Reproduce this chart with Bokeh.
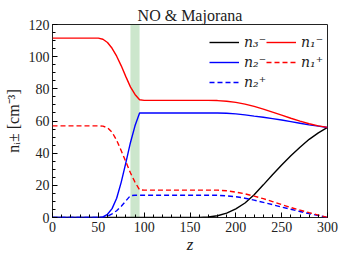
from bokeh.plotting import figure
from bokeh.models import (ColumnDataSource, BoxAnnotation, Legend, LegendItem,
                          SingleIntervalTicker)
from bokeh.embed import file_html
from bokeh.resources import INLINE

# ---- data ----
z = [0, 10, 20, 30, 40, 50, 55, 60, 65, 70, 75, 80, 85, 90, 95,
     100, 120, 140, 160, 170, 180, 190, 200, 210, 220, 230, 240, 250,
     260, 270, 280, 290, 300]

n1_minus = [111.5, 111.5, 111.5, 111.5, 111.5, 111.5, 110.8, 108.8, 105.2,
            100.3, 94.3, 87.6, 81.2, 76.5, 73.2,
            72.8, 72.8, 72.8, 72.8, 72.8, 72.7, 72.3, 71.6, 70.5, 69.1, 67.4,
            65.5, 63.6, 61.7, 59.9, 58.3, 57.0, 56.0]

n2_minus = [0, 0, 0, 0, 0, 0, 0.4, 2.0, 5.5, 12.0, 22.0, 34.0, 46.5, 57.0, 65.0,
            65.0, 65.0, 65.0, 65.0, 65.0, 65.0, 64.8, 64.4, 63.8, 63.0, 62.3,
            61.5, 60.6, 59.6, 58.6, 57.6, 56.8, 56.0]

n3_minus = [0, 0, 0, 0, 0, 0, 0, 0, 0, 0, 0, 0, 0, 0, 0,
            0, 0, 0, 0, 0.3, 1.1, 2.7, 5.4, 9.0, 14.2, 20.3,
            26.6, 32.6, 38.4, 43.7, 48.6, 52.6, 56.0]

n1_plus = [57.0, 57.0, 57.0, 57.0, 57.0, 57.0, 56.8, 55.8, 53.0, 48.0, 41.5,
           34.7, 27.8, 22.0, 17.2,
           17.0, 17.0, 17.0, 17.0, 17.0, 17.0, 16.6, 15.8, 14.7, 13.3, 11.7,
           9.9, 8.0, 6.2, 4.6, 3.0, 1.5, 0.0]

n2_plus = [0, 0, 0, 0, 0, 0, 0.0, 0.8, 2.3, 4.2, 7.0, 10.3, 13.6, 13.8, 13.8,
           13.8, 13.8, 13.8, 13.8, 13.8, 13.8, 13.5, 12.9, 12.0, 10.8, 9.4,
           8.0, 6.5, 5.1, 3.7, 2.4, 1.2, 0.0]

band = [85, 95]
title_text = "NO & Majorana"
x_label = "z"
y_label = "n\u1d62\u00b1 [cm\u207b\u00b3]"
legend_col1 = ["n\u2083\u207b", "n\u2082\u207b", "n\u2082\u207a"]
legend_col2 = ["n\u2081\u207b", "n\u2081\u207a"]

SERIF = "Liberation Serif"

src = ColumnDataSource(dict(z=z, n1m=n1_minus, n2m=n2_minus, n3m=n3_minus,
                            n1p=n1_plus, n2p=n2_plus))

p = figure(frame_width=275, frame_height=193, x_range=(0, 300), y_range=(0, 120),
           output_backend="svg", toolbar_location=None,
           min_border_left=52, min_border_right=19, min_border_top=24,
           min_border_bottom=42)
p.grid.visible = False
p.outline_line_color = "#222222"
p.outline_line_width = 1
p.background_fill_color = "white"
p.border_fill_color = "white"

p.title.text = title_text
p.title.align = "center"
p.title.text_font = SERIF
p.title.text_font_size = "16px"
p.title.text_font_style = "normal"
p.title.text_color = "#222222"
p.title.standoff = 2

p.add_layout(BoxAnnotation(left=band[0], right=band[1], fill_color="green",
                           fill_alpha=0.2, line_color=None, level="underlay"))

LW = 1.4
DASH = "5 3"
r3 = p.line("z", "n3m", source=src, color="black", line_width=LW)
r2 = p.line("z", "n2m", source=src, color="#0000ff", line_width=LW)
r2p = p.line("z", "n2p", source=src, color="#0000ff", line_width=LW, line_dash=DASH)
r1 = p.line("z", "n1m", source=src, color="#ff0000", line_width=LW)
r1p = p.line("z", "n1p", source=src, color="#ff0000", line_width=LW, line_dash=DASH)

for ax in (p.xaxis[0], p.yaxis[0]):
    ax.axis_line_color = None
    ax.major_tick_in = 5
    ax.major_tick_out = 0
    ax.minor_tick_in = 3
    ax.minor_tick_out = 0
    ax.major_tick_line_color = "black"
    ax.minor_tick_line_color = "black"
    ax.major_label_text_font = SERIF
    ax.major_label_text_font_size = "14px"
    ax.major_label_text_color = "#222222"
    ax.axis_label_text_font = SERIF
    ax.axis_label_text_color = "#222222"

p.xaxis.ticker = SingleIntervalTicker(interval=50, num_minor_ticks=5)
p.yaxis.ticker = SingleIntervalTicker(interval=20, num_minor_ticks=4)
p.xaxis.major_label_standoff = 4
p.yaxis.major_label_standoff = 3

p.xaxis.axis_label = x_label
p.xaxis.axis_label_text_font_style = "italic"
p.xaxis.axis_label_text_font_size = "17px"
p.xaxis.axis_label_standoff = 0

p.yaxis.axis_label = y_label
p.yaxis.axis_label_text_font_style = "normal"
p.yaxis.axis_label_text_font_size = "16px"
p.yaxis.axis_label_standoff = 4

def make_legend(labels, rends, loc):
    items = [LegendItem(label=l, renderers=[r]) for l, r in zip(labels, rends)]
    lg = Legend(items=items, location=loc, orientation="vertical",
                glyph_width=30, glyph_height=20, label_height=20,
                label_standoff=5, spacing=0, padding=0, margin=0,
                border_line_color=None, background_fill_alpha=0,
                label_text_font="DejaVu Serif", label_text_font_style="italic",
                label_text_font_size="14px", label_text_color="#222222")
    p.add_layout(lg, "center")

make_legend(legend_col1, [r3, r2, r2p], (157, 125))
make_legend(legend_col2, [r1, r1p], (214, 145))

open("out.html", "w").write(file_html(p, INLINE))
